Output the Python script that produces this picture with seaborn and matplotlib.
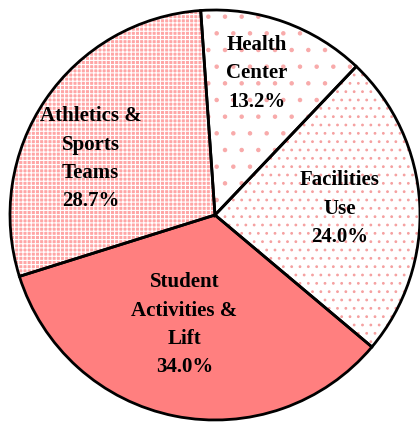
import matplotlib
matplotlib.use("Agg")
import matplotlib.pyplot as plt
import seaborn as sns
import numpy as np

sns.set_theme(style="white")
plt.rcParams['font.family'] = ['Liberation Serif', 'DejaVu Serif']
plt.rcParams['hatch.linewidth'] = 0.8

categories = ["Health\nCenter", "Facilities\nUse", "Student\nActivities &\nLift", "Athletics &\nSports\nTeams"]
values = [13.2, 24.0, 34.0, 28.7]

face_colors = ["white", "white", "#FF7F7F", "#FFA6A6"]
hatch_colors = ["#F8AAAA", "#F5A0A0", "#FF7F7F", "white"]
hatches = [".", "..", None, "++++"]
label_r = [0.72, 0.61, 0.556, 0.666]
label_da = [3.3, -0.3, -4.2, 10.0]

fig = plt.figure(figsize=(4.2, 4.23), dpi=100)
ax = fig.add_axes([0, 0, 1, 1])
R = 205
cx, cy = 215, 215

# hatch layer
wedges, _ = ax.pie(values, startangle=94, counterclock=False, radius=1,
                   wedgeprops=dict(linewidth=0))
for w, fc, hc, h in zip(wedges, face_colors, hatch_colors, hatches):
    w.set_facecolor(fc)
    w.set_edgecolor(hc)
    w.set_linewidth(0)
    if h:
        w.set_hatch(h)

# outline layer
wedges2, _ = ax.pie(values, startangle=94, counterclock=False, radius=1,
                    wedgeprops=dict(linewidth=2.0, edgecolor='black', facecolor='none'))

ax.set_aspect('auto')
ax.set_xlim(-cx / R, (420 - cx) / R)
ax.set_ylim(-(423 - cy) / R, cy / R)
ax.axis('off')

for w, cat, v, r, da in zip(wedges, categories, values, label_r, label_da):
    mid = np.deg2rad((w.theta1 + w.theta2) / 2 + da)
    ax.text(r * np.cos(mid), r * np.sin(mid), f"{cat}\n{v:.1f}%",
            ha='center', va='center', fontsize=15, fontweight='bold',
            linespacing=1.55, color='black')

fig.savefig("out.png", dpi=100)
